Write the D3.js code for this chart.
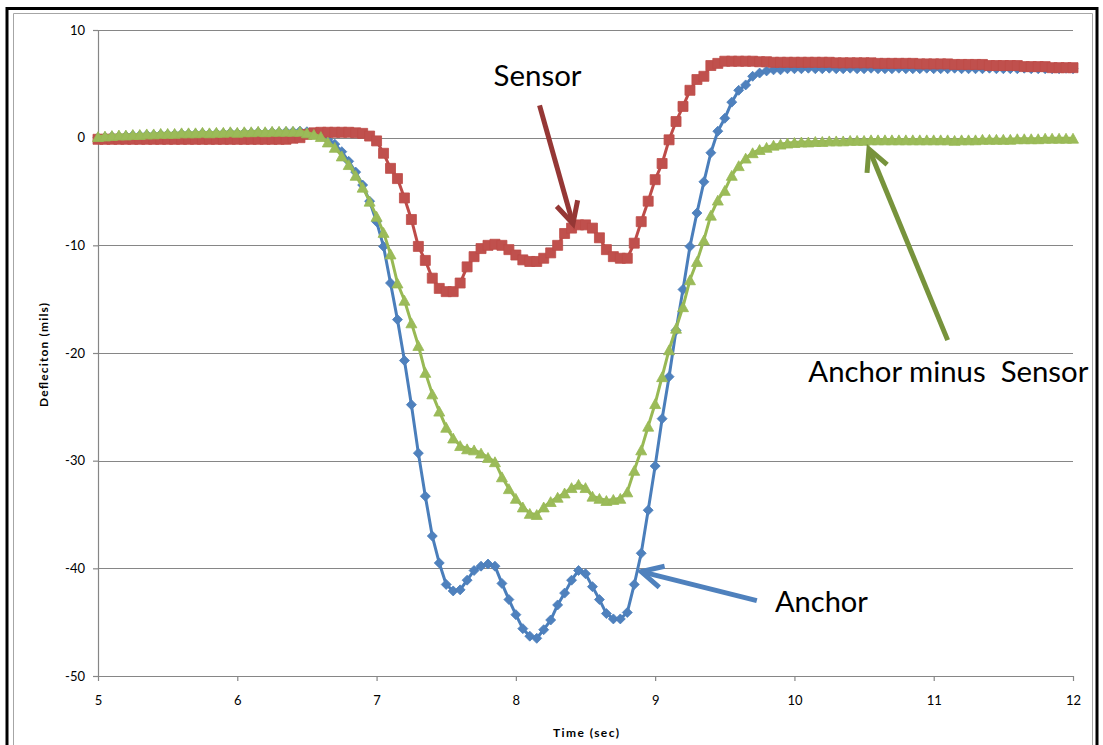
<!DOCTYPE html>
<html><head><meta charset="utf-8">
<script src="https://cdn.jsdelivr.net/npm/d3@7"></script>
<style>body{margin:0;background:#fff}svg{display:block}text{font-family:Lato,"Open Sans",sans-serif}</style>
</head><body><svg id="c" width="1103" height="745"></svg>
<script>
// ---------- DATA ----------
const timeSec = [
 5.00,5.05,5.10,5.15,5.20,5.25,5.30,5.35,5.40,5.45,
 5.50,5.55,5.60,5.65,5.70,5.75,5.80,5.85,5.90,5.95,
 6.00,6.05,6.10,6.15,6.20,6.25,6.30,6.35,6.40,6.45,
 6.50,6.55,6.60,6.65,6.70,6.75,6.80,6.85,6.90,6.95,
 7.00,7.05,7.10,7.15,7.20,7.25,7.30,7.35,7.40,7.45,
 7.50,7.55,7.60,7.65,7.70,7.75,7.80,7.85,7.90,7.95,
 8.00,8.05,8.10,8.15,8.20,8.25,8.30,8.35,8.40,8.45,
 8.50,8.55,8.60,8.65,8.70,8.75,8.80,8.85,8.90,8.95,
 9.00,9.05,9.10,9.15,9.20,9.25,9.30,9.35,9.40,9.45,
 9.50,9.55,9.60,9.65,9.70,9.75,9.80,9.85,9.90,9.95,
 10.00,10.05,10.10,10.15,10.20,10.25,10.30,10.35,10.40,10.45,
 10.50,10.55,10.60,10.65,10.70,10.75,10.80,10.85,10.90,10.95,
 11.00,11.05,11.10,11.15,11.20,11.25,11.30,11.35,11.40,11.45,
 11.50,11.55,11.60,11.65,11.70,11.75,11.80,11.85,11.90,11.95,
 12.00];

const anchor = [
 0.0,0.05,0.1,0.1,0.15,0.2,0.2,0.25,0.25,0.3,
 0.3,0.3,0.35,0.35,0.35,0.4,0.35,0.4,0.4,0.45,
 0.4,0.45,0.45,0.5,0.45,0.5,0.5,0.55,0.55,0.6,
 0.55,0.4,0.2,-0.2,-0.6,-1.3,-2.2,-3.2,-4.4,-5.9,
 -7.8,-10.1,-13.5,-16.9,-20.7,-24.8,-29.3,-33.3,-37.0,-39.5,
 -41.5,-42.1,-42.0,-41.1,-40.2,-39.8,-39.6,-39.8,-41.4,-42.9,
 -44.3,-45.6,-46.3,-46.5,-45.7,-44.8,-43.4,-42.3,-41.1,-40.2,
 -40.5,-41.7,-42.9,-44.2,-44.7,-44.7,-44.1,-41.5,-38.6,-34.6,
 -30.5,-26.1,-22.2,-17.9,-14.1,-10.1,-7.0,-4.1,-1.4,0.6,
 1.8,3.3,4.4,4.9,5.7,6.0,6.2,6.3,6.3,6.4,
 6.4,6.4,6.45,6.4,6.4,6.45,6.4,6.4,6.45,6.4,
 6.4,6.45,6.4,6.4,6.4,6.45,6.4,6.4,6.4,6.45,
 6.4,6.4,6.4,6.45,6.4,6.4,6.4,6.4,6.45,6.4,
 6.4,6.4,6.4,6.45,6.4,6.4,6.4,6.4,6.4,6.45,
 6.4];

const sensor = [
 -0.15,-0.15,-0.15,-0.15,-0.15,-0.15,-0.15,-0.15,-0.15,-0.15,
 -0.15,-0.15,-0.15,-0.15,-0.15,-0.15,-0.15,-0.15,-0.15,-0.15,
 -0.15,-0.15,-0.15,-0.15,-0.15,-0.15,-0.15,-0.15,-0.05,0.0,
 0.3,0.45,0.5,0.5,0.5,0.5,0.5,0.45,0.4,0.15,
 -0.3,-1.45,-2.85,-3.8,-5.6,-7.6,-10.1,-11.4,-13.05,-14.0,
 -14.3,-14.3,-13.5,-12.0,-11.05,-10.3,-10.0,-9.9,-10.0,-10.4,
 -10.9,-11.35,-11.5,-11.5,-11.2,-10.7,-10.0,-8.9,-8.4,-8.1,
 -8.1,-8.4,-9.3,-10.4,-11.05,-11.2,-11.2,-9.8,-7.8,-5.9,
 -3.9,-2.4,-0.2,1.5,2.9,4.4,5.4,5.7,6.7,6.9,
 7.1,7.1,7.1,7.1,7.1,7.05,7.05,7.0,7.0,7.0,
 7.0,7.0,7.0,7.0,7.0,7.0,6.95,6.95,6.95,6.95,
 6.95,6.95,6.9,6.9,6.9,6.9,6.9,6.9,6.85,6.85,
 6.85,6.85,6.85,6.8,6.8,6.8,6.8,6.8,6.7,6.7,
 6.7,6.7,6.7,6.6,6.6,6.6,6.6,6.5,6.5,6.5,
 6.5];

const anchorMinusSensor = [
 0.1,0.15,0.2,0.25,0.25,0.3,0.3,0.35,0.35,0.4,
 0.4,0.4,0.45,0.45,0.45,0.5,0.45,0.5,0.5,0.55,
 0.5,0.55,0.55,0.6,0.55,0.6,0.6,0.6,0.6,0.6,
 0.45,0.3,0.1,-0.4,-0.9,-1.7,-2.5,-3.5,-4.6,-5.9,
 -7.3,-8.8,-10.8,-13.5,-15.1,-17.2,-19.3,-21.8,-23.8,-25.4,
 -26.9,-27.9,-28.6,-28.9,-29.0,-29.3,-29.7,-30.1,-31.5,-32.6,
 -33.5,-34.3,-34.9,-35.0,-34.3,-33.8,-33.4,-33.0,-32.5,-32.2,
 -32.5,-33.3,-33.5,-33.7,-33.6,-33.5,-32.9,-30.9,-29.0,-26.8,
 -24.7,-22.2,-19.7,-17.7,-15.7,-13.2,-11.5,-9.5,-7.2,-5.8,
 -4.9,-3.5,-2.6,-1.9,-1.4,-1.1,-0.9,-0.7,-0.6,-0.5,
 -0.45,-0.4,-0.4,-0.35,-0.35,-0.3,-0.3,-0.3,-0.25,-0.25,
 -0.25,-0.2,-0.2,-0.2,-0.2,-0.2,-0.2,-0.2,-0.2,-0.2,
 -0.2,-0.2,-0.2,-0.25,-0.2,-0.2,-0.2,-0.15,-0.15,-0.15,
 -0.15,-0.15,-0.1,-0.1,-0.1,-0.1,-0.05,-0.05,-0.05,-0.05,
 -0.05];

const xTicks = [5,6,7,8,9,10,11,12];
const xTickLabels = ["5","6","7","8","9","10","11","12"];
const yTicks = [10,0,-10,-20,-30,-40,-50];
const yTickLabels = ["10","0","-10","-20","-30","-40","-50"];
const seriesNames = ["Anchor","Sensor","Anchor minus  Sensor"];
const xTitle = "Time (sec)";
const yTitle = "Defleciton (mils)";

// ---------- CHART ----------
const svg = d3.select("#c");
const W = 1103, H = 745;
svg.append("rect").attr("width",W).attr("height",H).attr("fill","#fff");
// frame
svg.append("path").attr("d","M7,745V8.5H1097V745").attr("fill","none").attr("stroke","#000").attr("stroke-width",3);
svg.append("path").attr("d","M13.5,745V13.5H1092.5V745").attr("fill","none").attr("stroke","#a6a6a6").attr("stroke-width",1);

const x = d3.scaleLinear().domain([5,12]).range([98,1073]);
const y = d3.scaleLinear().domain([-50,10]).range([676,30]);
const axisColor = "#868686";

// gridlines
svg.append("g").selectAll("line").data(yTicks.filter(v=>v!==-50)).join("line")
  .attr("x1",x(5)).attr("x2",x(12)).attr("y1",d=>Math.round(y(d))+0.5).attr("y2",d=>Math.round(y(d))+0.5)
  .attr("stroke",axisColor).attr("stroke-width",1.2);

// axes
const gy = svg.append("g").attr("transform",`translate(${x(5)},0)`)
  .call(d3.axisLeft(y).tickValues(yTicks).tickSize(5).tickSizeOuter(0).tickPadding(8)
    .tickFormat((d,i)=>yTickLabels[i]));
const gx = svg.append("g").attr("transform",`translate(0,${y(-50)})`)
  .call(d3.axisBottom(x).tickValues(xTicks).tickSize(5).tickSizeOuter(0).tickPadding(15)
    .tickFormat((d,i)=>xTickLabels[i]));
[gx,gy].forEach(g=>{
  g.selectAll("path,line").attr("stroke",axisColor).attr("stroke-width",1.2);
  g.selectAll("text").attr("fill","#000").style("font-size","13px").style("font-family","Lato,'Open Sans',sans-serif");
});

svg.append("text").attr("x",586).attr("y",737).attr("text-anchor","middle")
  .style("font-size","12px").style("font-weight","bold").attr("textLength",66).text(xTitle);
svg.append("text").attr("transform","translate(48,355) rotate(-90)").attr("text-anchor","middle")
  .style("font-size","12px").style("font-weight","bold").attr("textLength",104).text(yTitle);

// symbols
const diamond = {draw(ctx,s){const r=s/2;ctx.moveTo(0,-r);ctx.lineTo(r,0);ctx.lineTo(0,r);ctx.lineTo(-r,0);ctx.closePath();}};
const square = {draw(ctx,s){const r=s/2;ctx.rect(-r,-r,s,s);}};
const triangle = {draw(ctx,s){const w=s/2,h=s*0.9/2;ctx.moveTo(0,-h);ctx.lineTo(w,h);ctx.lineTo(-w,h);ctx.closePath();}};

const series = [
  {name:seriesNames[0], values:anchor, line:"#4a7ebb", fill:"#4f81bd", sym:diamond, size:10},
  {name:seriesNames[1], values:sensor, line:"#be4b48", fill:"#c0504d", sym:square, size:10},
  {name:seriesNames[2], values:anchorMinusSensor, line:"#98b954", fill:"#9bbb59", sym:triangle, size:11}
];
const lineGen = d3.line().x(d=>x(d[0])).y(d=>y(d[1]));
series.forEach(s=>{
  const pts = timeSec.map((t,i)=>[t,s.values[i]]);
  const g = svg.append("g");
  g.append("path").attr("d",lineGen(pts)).attr("fill","none").attr("stroke",s.line).attr("stroke-width",3).attr("stroke-linejoin","round");
  const sym = d3.symbol().type(s.sym).size(s.size);
  g.selectAll("path.m").data(pts).join("path").attr("class","m")
    .attr("transform",d=>`translate(${x(d[0])},${y(d[1])})`).attr("d",sym)
    .attr("fill",s.fill).attr("stroke",s.line).attr("stroke-width",0.8);
});

// annotations (arrow tail -> tip in data units, label anchor in data units)
const annotations = [
  {text:"Sensor", lx:7.84, ly:4.8, len:88, tail:[8.17,3.0], tip:[8.41,-8.0], color:"#953735"},
  {text:"Anchor", lx:9.86, ly:-44.1, len:93, tail:[9.73,-43.0], tip:[8.90,-40.3], color:"#4f81bd"},
  {text:"Anchor minus  Sensor", lx:10.10, ly:-22.7, len:280, tail:[11.10,-18.8], tip:[10.535,-1.05], color:"#77933c"}
];
annotations.forEach(a=>{
  const x0=x(a.tail[0]), y0=y(a.tail[1]), x1=x(a.tip[0]), y1=y(a.tip[1]);
  const ang=Math.atan2(y0-y1,x0-x1), L=24, th=27*Math.PI/180;
  const p1=[x1+L*Math.cos(ang+th), y1+L*Math.sin(ang+th)];
  const p2=[x1+L*Math.cos(ang-th), y1+L*Math.sin(ang-th)];
  svg.append("line").attr("x1",x0).attr("y1",y0).attr("x2",x1+2*Math.cos(ang)).attr("y2",y1+2*Math.sin(ang))
    .attr("stroke",a.color).attr("stroke-width",5);
  svg.append("path").attr("d",`M${p1[0]},${p1[1]}L${x1},${y1}L${p2[0]},${p2[1]}`)
    .attr("fill","none").attr("stroke",a.color).attr("stroke-width",5).attr("stroke-linejoin","miter");
  svg.append("text").attr("x",x(a.lx)).attr("y",y(a.ly)).style("font-size","28px").attr("fill","#000")
    .attr("textLength",a.len).attr("lengthAdjust","spacingAndGlyphs").style("white-space","pre").text(a.text);
});
</script></body></html>
